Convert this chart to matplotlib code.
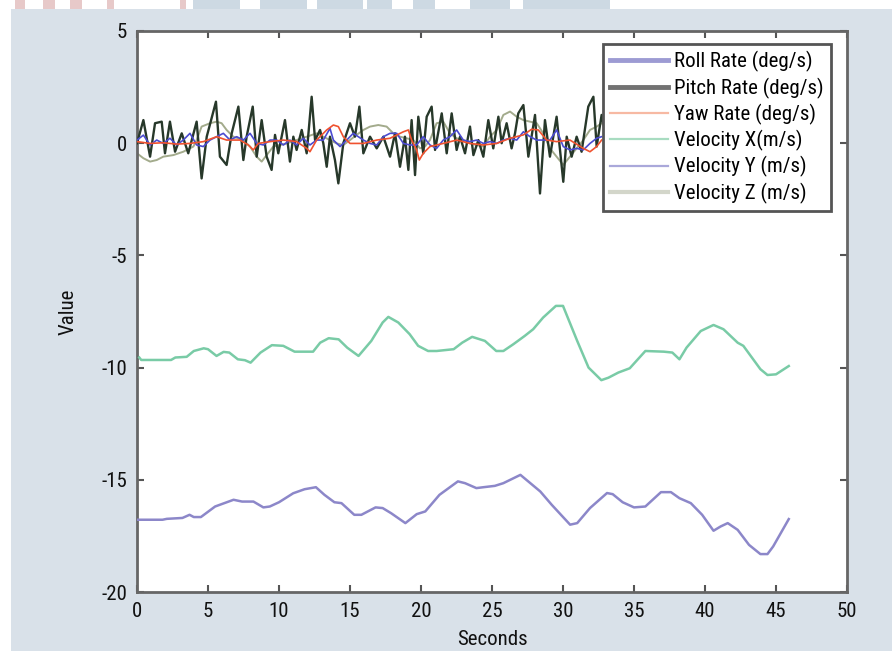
import matplotlib
matplotlib.use("Agg")
import matplotlib.pyplot as plt
from matplotlib.patches import Rectangle
from matplotlib.lines import Line2D
from matplotlib import font_manager
import numpy as np

# pick a condensed face if one is installed
cands = [f.name for f in font_manager.fontManager.ttflist
         if ('Condensed' in f.name or 'Narrow' in f.name or f.stretch in ('condensed', 'semi-condensed', 'extra-condensed'))]
fam = []
for pref in ['Liberation Sans Narrow', 'DejaVu Sans Condensed', 'Roboto Condensed', 'Open Sans Condensed',
             'Noto Sans Condensed']:
    if pref in cands:
        fam.append(pref)
if not fam and cands:
    fam.append(sorted(cands)[0])
plt.rcParams['font.family'] = fam + ['DejaVu Sans']
plt.rcParams['font.stretch'] = 'condensed'
plt.rcParams['axes.unicode_minus'] = False

# ---------------- data ----------------
pitch_t = [0.0, 0.45, 0.92, 1.27, 1.74, 1.97, 2.32, 2.68, 3.15, 3.61, 4.20, 4.55, 4.91, 5.56, 5.84,
           6.31, 6.67, 7.14, 7.49, 7.72, 8.15, 8.43, 8.78, 9.13, 9.48, 9.72, 9.95, 10.42, 10.77,
           11.01, 11.24, 11.60, 11.95, 12.30, 12.54, 12.89, 13.12, 13.36, 13.59, 13.94, 14.18,
           14.53, 15.00, 15.35, 15.66, 15.94, 16.41, 16.88, 17.35, 17.82, 18.17, 18.52, 18.87,
           19.11, 19.34, 19.58, 19.81, 20.16, 20.40, 20.75, 20.99, 21.46, 21.81, 22.16, 22.51,
           22.75, 23.10, 23.45, 23.69, 24.04, 24.39, 24.74, 25.09, 25.45, 25.68, 26.03, 26.38,
           26.62, 26.85, 27.21, 27.56, 28.03, 28.38, 28.73, 29.08, 29.55, 30.02, 30.26, 30.61,
           30.96, 31.31, 31.78, 32.14, 32.37, 32.72, 33.08]
pitch_v = [0.0, 1.03, -0.60, 0.89, 0.96, -0.45, 0.96, -0.38, 0.44, -0.45, 0.96, -1.57, 0.29, 1.85,
           -0.60, -0.97, 0.44, 1.63, -0.75, 0.29, 1.63, -0.60, 1.03, -0.60, -1.19, 0.37, -0.45,
           1.03, -0.82, 0.29, -0.30, 0.59, -0.45, 2.07, 0.14, 0.59, 0.0, -1.05, 0.29, -0.75,
           -1.79, 0.0, 0.89, 0.29, 1.63, -0.45, 0.29, -0.23, 0.29, -0.60, 0.44, -1.05, 0.29,
           -1.19, 1.03, -1.42, 1.18, -0.45, 1.18, 1.63, -0.30, 1.33, -0.45, 1.33, -0.30, 0.29,
           -0.45, 0.74, -0.53, 0.14, -0.60, 1.03, -0.23, 1.18, 0.0, 0.89, -0.23, 0.44, 1.33,
           1.70, -0.60, 1.26, -2.24, 1.03, -0.60, 1.18, -1.72, 0.29, -0.60, 0.29, -0.38, 1.63,
           2.07, -0.15, 1.26, 0.14]

roll_t = [0.0, 0.45, 0.92, 1.39, 1.85, 2.32, 2.79, 3.26, 3.73, 4.20, 4.67, 5.14, 5.61, 6.08, 6.55,
          7.02, 7.49, 7.96, 8.43, 8.90, 9.37, 9.84, 10.31, 10.77, 11.24, 11.71, 12.18, 12.65,
          13.12, 13.59, 13.83, 14.30, 14.77, 15.23, 15.94, 16.41, 16.88, 17.35, 17.82, 18.29,
          18.76, 19.23, 19.69, 20.16, 20.63, 21.10, 21.57, 22.04, 22.51, 22.98, 23.45, 23.92,
          24.39, 24.86, 25.33, 25.80, 26.27, 26.74, 27.21, 27.68, 28.15, 28.61, 29.08, 29.55,
          30.02, 30.49, 30.96, 31.43, 31.90, 32.37, 32.72]
roll_v = [0.14, 0.36, -0.08, 0.14, -0.01, 0.22, -0.08, 0.14, 0.44, -0.08, -0.15, 0.14, 0.29, 0.44,
          0.14, 0.29, 0.14, 0.44, -0.01, -0.08, 0.14, 0.14, -0.08, 0.14, -0.08, 0.22, -0.08, 0.14,
          0.14, 0.66, 0.14, -0.15, 0.14, 0.44, 0.14, -0.01, -0.08, 0.29, 0.44, 0.44, -0.01,
          -0.08, -0.08, 0.29, -0.08, -0.23, 0.14, 0.29, 0.59, 0.14, 0.07, 0.14, -0.01, 0.07,
          -0.01, 0.14, 0.22, 0.14, 0.51, 0.29, 0.14, 0.14, 0.14, 0.59, -0.15, -0.30, -0.23,
          -0.30, -0.01, 0.22, 0.29]

yaw_t = [0.0, 0.92, 1.85, 2.79, 3.73, 4.67, 5.61, 6.31, 7.25, 7.84, 8.19, 8.54, 9.37, 10.31, 11.24,
         11.95, 12.18, 12.65, 13.36, 13.83, 14.18, 14.53, 15.00, 15.94, 16.88, 17.82, 18.76,
         19.11, 19.34, 19.69, 19.88, 20.16, 20.63, 21.57, 22.51, 23.45, 24.39, 25.33, 26.27,
         27.21, 27.79, 28.26, 28.85, 29.55, 30.49, 31.43, 31.90, 32.37, 32.72]
yaw_v = [0.07, -0.01, 0.02, -0.04, -0.01, 0.07, 0.29, 0.14, 0.14, -0.08, -0.30, -0.01, 0.07, 0.14,
         0.07, -0.23, -0.38, 0.14, 0.59, 0.81, 0.74, 0.29, -0.01, -0.01, 0.14, 0.22, 0.51, 0.59,
         0.14, -0.30, -0.75, -0.45, -0.15, -0.01, 0.14, -0.01, -0.08, -0.01, 0.22, 0.37, 0.62,
         0.59, 0.14, 0.07, 0.14, -0.23, -0.38, -0.15, 0.14]

velx_t = [0.16, 0.3, 2.4, 2.7, 3.5, 4.0, 4.7, 5.0, 5.6, 6.1, 6.5, 7.1, 7.6, 8.0, 8.7, 9.5, 10.3,
          11.1, 12.4, 12.9, 13.5, 14.2, 14.8, 15.6, 16.5, 17.3, 17.7, 18.4, 19.2, 19.8, 20.5,
          21.1, 22.3, 22.9, 23.6, 24.5, 25.3, 25.8, 26.5, 27.3, 27.9, 28.6, 29.5, 30.0, 31.0,
          31.8, 32.7, 33.2, 33.9, 34.7, 35.8, 37.1, 37.7, 38.2, 38.7, 39.7, 40.6, 41.3, 42.3,
          42.7, 43.9, 44.4, 45.0, 45.9]
velx_v = [-9.55, -9.66, -9.66, -9.55, -9.52, -9.26, -9.14, -9.18, -9.48, -9.30, -9.33, -9.63,
          -9.67, -9.78, -9.33, -9.00, -9.03, -9.29, -9.29, -8.89, -8.69, -8.74, -9.11, -9.48,
          -8.81, -7.99, -7.74, -7.99, -8.51, -9.03, -9.26, -9.26, -9.18, -8.89, -8.63, -8.81,
          -9.26, -9.26, -8.96, -8.59, -8.29, -7.77, -7.25, -7.25, -8.81, -10.00, -10.56, -10.45,
          -10.22, -10.03, -9.26, -9.29, -9.33, -9.63, -9.11, -8.37, -8.10, -8.29, -8.89, -9.03,
          -10.07, -10.33, -10.30, -9.93]

vely_t = [0.0, 1.8, 2.1, 3.2, 3.7, 4.0, 4.5, 5.5, 6.8, 7.4, 8.2, 8.9, 9.35, 10.0, 11.0, 11.8, 12.6,
          13.2, 13.9, 14.4, 15.3, 15.8, 16.8, 17.3, 17.9, 18.9, 19.7, 20.3, 21.3, 22.6, 23.1,
          23.9, 24.4, 25.2, 25.8, 27.0, 27.7, 28.4, 29.2, 30.5, 31.0, 31.9, 33.1, 33.5, 34.2,
          35.0, 35.8, 36.9, 37.6, 38.2, 39.0, 39.8, 40.6, 41.1, 41.6, 42.3, 43.1, 43.9, 44.4,
          44.8, 45.9]
vely_v = [-16.78, -16.78, -16.74, -16.70, -16.56, -16.66, -16.66, -16.19, -15.89, -15.97, -15.97,
          -16.23, -16.19, -16.00, -15.60, -15.42, -15.33, -15.67, -16.00, -16.04, -16.56, -16.56,
          -16.23, -16.26, -16.49, -16.93, -16.53, -16.41, -15.67, -15.07, -15.15, -15.37, -15.33,
          -15.27, -15.15, -14.78, -15.15, -15.52, -16.11, -17.00, -16.93, -16.26, -15.59, -15.64,
          -16.00, -16.23, -16.19, -15.55, -15.55, -15.82, -16.04, -16.56, -17.27, -17.08, -16.93,
          -17.23, -17.90, -18.31, -18.31, -17.97, -16.75]

velz_t = [0.0, 0.45, 0.92, 1.39, 1.85, 2.56, 3.26, 3.97, 4.20, 4.55, 5.14, 5.61, 5.96, 6.31, 6.78,
          7.49, 7.96, 8.43, 8.78, 9.13, 9.60, 10.54, 11.24, 11.95, 12.65, 13.12, 13.59, 14.06,
          14.53, 15.00, 15.47, 15.94, 16.41, 16.99, 17.58, 18.05, 18.52, 18.99, 19.46, 19.93,
          20.28, 20.63, 21.10, 21.57, 22.04, 22.51, 22.98, 23.45, 23.92, 24.39, 24.86, 25.33,
          25.80, 26.27, 26.74, 27.21, 27.68, 28.15, 28.61, 29.08, 29.55, 30.02, 30.49, 30.96,
          31.43, 31.90, 32.37, 32.72]
velz_v = [-0.45, -0.67, -0.82, -0.75, -0.60, -0.53, -0.38, -0.15, 0.14, 0.74, 0.89, 0.96, 0.89,
          0.59, 0.29, 0.14, -0.15, -0.60, -0.82, -0.53, -0.15, -0.01, 0.14, 0.29, 0.44, 0.29,
          0.14, -0.01, -0.08, 0.14, 0.37, 0.59, 0.74, 0.81, 0.74, 0.44, 0.29, 0.22, 0.14, -0.23,
          -0.15, 0.14, 0.89, 0.96, 0.44, 0.22, 0.14, -0.01, -0.08, -0.15, 0.29, 0.59, 1.26, 1.41,
          1.18, 1.03, 0.96, 0.89, 0.44, -0.23, -0.60, -0.97, -0.60, -0.23, 0.14, 0.59, 0.74, 0.89]

labels = ['Roll Rate (deg/s)', 'Pitch Rate (deg/s)', 'Yaw Rate (deg/s)',
          'Velocity X(m/s)', 'Velocity Y (m/s)', 'Velocity Z (m/s)']
x_ticks = [0, 5, 10, 15, 20, 25, 30, 35, 40, 45, 50]
y_ticks = [-20, -15, -10, -5, 0, 5]

# ---------------- figure ----------------
W, H = 892, 651
fig = plt.figure(figsize=(W / 100, H / 100), dpi=100, facecolor='white')

def fx(px):
    return px / W

def fy(py):
    return 1 - py / H

# background panel
fig.patches.append(Rectangle((fx(11), 0), 1 - fx(11), fy(9), transform=fig.transFigure,
                             facecolor='#d9e1e9', edgecolor='none', zorder=-5))
# decorative banner fragments on top strip
for a, b in [(15, 25), (43, 55), (70, 82), (107, 114), (180, 186)]:
    fig.patches.append(Rectangle((fx(a), fy(9)), fx(b - a), 9 / H, transform=fig.transFigure,
                                 facecolor='#e7c9c9', edgecolor='none', zorder=-5))
for a, b in [(193, 240), (260, 307), (317, 363), (367, 392), (413, 435), (470, 510), (523, 610)]:
    fig.patches.append(Rectangle((fx(a), fy(9)), fx(b - a), 9 / H, transform=fig.transFigure,
                                 facecolor='#cdd9e3', edgecolor='none', zorder=-5))

ax = fig.add_axes([fx(137), fy(592), fx(847 - 137), (592 - 31) / H])
ax.set_zorder(2)
ax.set_facecolor('white')

ax.plot(velz_t, velz_v, color='#a3ab8c', lw=1.4, zorder=2)
ax.plot(pitch_t, pitch_v, color='#27382a', lw=1.7, zorder=3)
ax.plot(roll_t, roll_v, color='#4b4bd0', lw=1.2, zorder=4)
ax.plot(yaw_t, yaw_v, color='#f0522f', lw=1.2, zorder=4)
ax.plot(velx_t, velx_v, color='#79cba6', lw=1.8, zorder=3)
ax.plot(vely_t, vely_v, color='#8c87c9', lw=1.8, zorder=3)

ax.set_xlim(0, 50)
ax.set_ylim(-20, 5)
ax.set_xticks(x_ticks)
ax.set_yticks(y_ticks)
ax.tick_params(direction='in', length=5, width=1.5, color='#555555', top=True, right=True,
               labelsize=15, pad=7, labelcolor='#111111')
for s in ax.spines.values():
    s.set_color('#666666')
    s.set_linewidth(2)

ax.set_xlabel('Seconds', fontsize=15, color='#111111', labelpad=7)
ax.set_ylabel('Value', fontsize=15, color='#111111', labelpad=17)

handles = [
    Line2D([], [], color='#9d9bd3', lw=3.5),
    Line2D([], [], color='#727272', lw=3.5),
    Line2D([], [], color='#f7b9a3', lw=1.6),
    Line2D([], [], color='#a8dcc1', lw=1.6),
    Line2D([], [], color='#aaa8da', lw=1.6),
    Line2D([], [], color='#d3d6ca', lw=3.0),
]
leg = ax.legend(handles, labels, loc='upper right', bbox_to_anchor=(0.977, 0.977),
                borderaxespad=0, fontsize=15, handlelength=2.75, handletextpad=0.3,
                labelspacing=0.25, borderpad=0.35, fancybox=False, framealpha=1,
                edgecolor='#555555')
leg.get_frame().set_linewidth(2)
leg.set_zorder(10)

fig.savefig('out.png', dpi=100, facecolor='white')
